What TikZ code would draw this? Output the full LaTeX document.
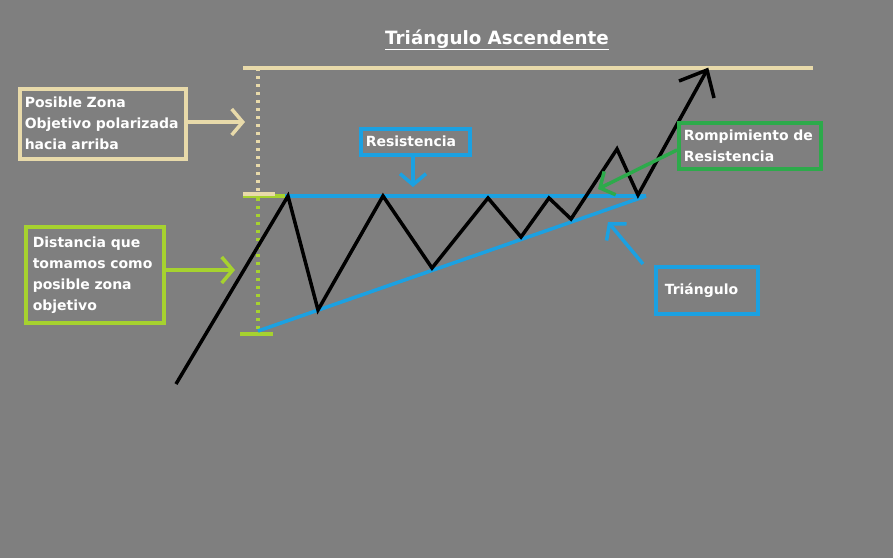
\documentclass[tikz,border=0pt]{standalone}
\usepackage{fontspec}
\setmainfont{DejaVu Sans}
\usetikzlibrary{arrows.meta}

\definecolor{fondo}{RGB}{127,127,127}
\definecolor{beige}{RGB}{232,218,170}
\definecolor{lima}{RGB}{166,210,47}
\definecolor{azul}{RGB}{27,161,226}
\definecolor{verde}{RGB}{45,170,75}

\tikzset{
  caja/.style={draw, line width=3.5pt, anchor=north west, align=left,
    inner xsep=5pt, inner ysep=4pt, text=white,
    font=\fontsize{14}{21}\selectfont\bfseries},
  flecha/.style={line width=3.5pt, -{Straight Barb[length=11pt,width=26pt,line width=3.5pt]}},
  linea/.style={line width=3.5pt},
  punteada/.style={line width=3.5pt, dash pattern=on 3pt off 5pt}
}

\begin{document}
\begin{tikzpicture}[x=1pt, y=-1pt]

\fill[fondo] (0,0) rectangle (893,558);
\useasboundingbox (0,0) rectangle (893,558);

% ============================================
% 1. TITULO
% ============================================
\node[text=white, font=\fontsize{18.3}{22}\selectfont\bfseries] (titulo) at (497,40)
  {\underline{Triángulo Ascendente}};

% ============================================
% 2. ZONA OBJETIVO
% ============================================
\coordinate (techoI) at (243,68);
\coordinate (techoD) at (813,68);
\draw[beige, linea] (techoI) -- (techoD);
\draw[beige, punteada] (258,68) -- (258,194);
\draw[lima, punteada] (258,198) -- (258,333);
\draw[lima, linea] (243,196) -- (290,196);
\draw[beige, linea] (243,194) -- (275,194);
\draw[lima, linea] (240,334) -- (273,334);

% ============================================
% 3. TRIANGULO
% ============================================
\coordinate (A) at (258,331);
\coordinate (B) at (285,196);
\coordinate (C) at (646,196);
\draw[azul, linea] (B) -- (C);
\draw[azul, linea] (A) -- (C);

% Precio
\draw[black, linea, line join=miter]
  (176,384) -- (288,196) -- (318,310) -- (383,196) -- (432,268)
  -- (488,198) -- (521,237) -- (549,198) -- (571,219) -- (617,149)
  -- (638,195) -- (707,70);
\draw[black, linea] (679,81) -- (707,70) -- (714,98);

% ============================================
% 4. CAJAS
% ============================================
\node[caja, beige, text width=156pt, minimum height=70pt] (zona) at (18,87)
  {\textcolor{white}{Posible Zona}\\\textcolor{white}{Objetivo polarizada}\\\textcolor{white}{hacia arriba}};
\node[caja, lima, text width=124pt, inner xsep=7pt, minimum height=96pt] (distancia) at (24,225)
  {\textcolor{white}{Distancia que}\\\textcolor{white}{tomamos como}\\\textcolor{white}{posible zona}\\\textcolor{white}{objetivo}};
\node[caja, azul, text width=99pt, minimum height=26pt, inner ysep=2pt] (resistencia) at (359,127)
  {\textcolor{white}{Resistencia}};
\node[caja, verde, text width=132pt, minimum height=46pt, inner ysep=1pt] (rompimiento) at (677,121)
  {\textcolor{white}{Rompimiento de}\\\textcolor{white}{Resistencia}};
\node[caja, azul, text width=84pt, inner xsep=9pt, minimum height=47pt] (triangulo) at (654,265)
  {\textcolor{white}{Triángulo}};

% Flechas
\coordinate (pZona) at (245,122);
\coordinate (pDist) at (235,270);
\coordinate (pRes) at (413,187);
\coordinate (pRomp) at (598,189);
\coordinate (pTri) at (608,222);
\draw[flecha, beige] (zona.east |- pZona) -- (pZona);
\draw[flecha, lima] (distancia.east |- pDist) -- (pDist);
\draw[flecha, azul] (resistencia.south -| pRes) -- (pRes);
\draw[flecha, verde] (rompimiento.west |- 0,150) -- (pRomp);
\draw[flecha, azul] (643,264) -- (pTri);

\end{tikzpicture}
\end{document}
